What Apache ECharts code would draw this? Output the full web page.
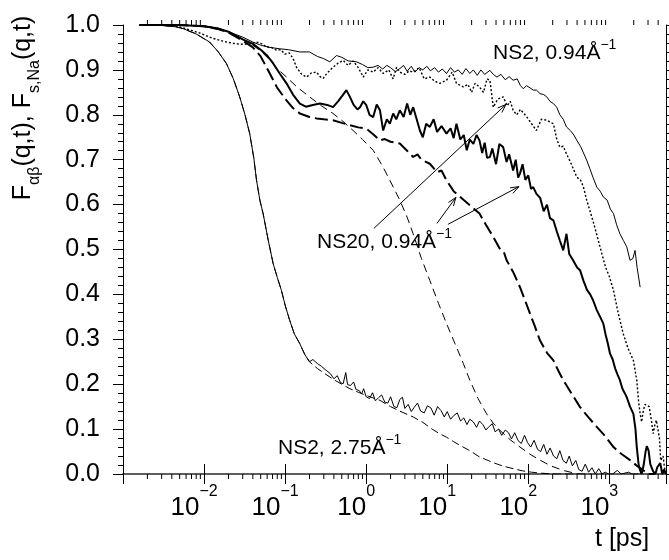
<!DOCTYPE html>
<html>
<head>
<meta charset="utf-8">
<script src="https://cdn.jsdelivr.net/npm/echarts@6/dist/echarts.min.js"></script>
<style>
html,body{margin:0;padding:0;background:#fff;}
#chart{width:669px;height:560px;}
</style>
</head>
<body>
<div id="chart"></div>
<script>
// ---------- DATA (t in ps, F(q,t)) ----------
const yTicks = [0.0,0.1,0.2,0.3,0.4,0.5,0.6,0.7,0.8,0.9,1.0];
const xDecades = [1e-3,1e-2,1e-1,1e0,1e1,1e2,1e3];

// NS2, q = 2.75 1/A : common fast part of both curves
const fastEarly = [[0.0016,1.0],[0.002,1.0],[0.003,0.999],[0.0045,0.996],[0.0055,0.992],[0.008,0.980],[0.0117,0.962],[0.015,0.940],[0.0189,0.914],[0.023,0.880],[0.0275,0.840],[0.032,0.800],[0.0366,0.758],[0.041,0.705],[0.0444,0.654],[0.0488,0.610],[0.0535,0.580],[0.062,0.520],[0.0711,0.469],[0.080,0.438],[0.090,0.409],[0.100,0.376],[0.114,0.342],[0.130,0.312],[0.152,0.290],[0.175,0.266],[0.200,0.250]];
// solid, noisy tail
const fastSolidTail = [[0.22,0.255],[0.25,0.246],[0.28,0.240],[0.32,0.231],[0.36,0.224],[0.40,0.212],[0.44,0.219],[0.48,0.204],[0.52,0.201],[0.56,0.226],[0.59,0.199],[0.64,0.197],[0.70,0.205],[0.75,0.188],[0.82,0.186],[0.88,0.178],[0.93,0.190],[1.0,0.172],[1.1,0.168],[1.2,0.181],[1.3,0.163],[1.42,0.170],[1.55,0.176],[1.7,0.160],[1.85,0.158],[2.0,0.172],[2.2,0.150],[2.4,0.148],[2.6,0.166],[2.8,0.171],[3.0,0.146],[3.3,0.155],[3.6,0.139],[3.9,0.148],[4.3,0.158],[4.7,0.140],[5.2,0.136],[5.7,0.152],[6.3,0.147],[6.9,0.131],[7.6,0.150],[8.4,0.141],[9.2,0.127],[10,0.139],[11,0.122],[12,0.130],[13.3,0.136],[14.6,0.118],[16,0.125],[17.5,0.110],[19,0.122],[21,0.116],[23,0.104],[25,0.118],[27.5,0.110],[30,0.098],[33,0.106],[36,0.112],[39,0.094],[43,0.100],[47,0.086],[52,0.098],[57,0.092],[62,0.078],[68,0.092],[75,0.074],[82,0.068],[90,0.086],[98,0.070],[107,0.060],[118,0.075],[130,0.055],[142,0.050],[155,0.066],[170,0.044],[186,0.058],[205,0.040],[225,0.034],[245,0.052],[268,0.030],[295,0.024],[320,0.040],[350,0.018],[385,0.030],[420,0.010],[460,0.006],[505,0.022],[555,0.004],[610,0.014],[670,0.0],[740,0.012],[810,0.0],[890,0.004],[980,0.0],[1100,0.0],[1250,0.008],[1400,0.0],[1730,0.004],[1900,0.0],[2300,0.0]];
// dashed, smooth tail
const fastDashedTail = [[0.25,0.235],[0.3,0.225],[0.4,0.210],[0.5,0.200],[0.63,0.190],[0.8,0.182],[1.0,0.175],[1.48,0.164],[2.0,0.150],[2.6,0.140],[3.8,0.127],[5.0,0.115],[6.5,0.100],[8.0,0.090],[9.8,0.082],[12,0.072],[15,0.062],[19,0.052],[25,0.038],[32,0.030],[40,0.023],[50,0.017],[65,0.012],[85,0.007],[110,0.004],[140,0.002],[170,0.001],[220,0.0],[400,0.0]];

// q = 0.94 1/A curves
const thinDashed = [[0.0016,1.0],[0.005,1.0],[0.01,0.998],[0.015,0.993],[0.02,0.985],[0.03,0.968],[0.04,0.955],[0.05,0.942],[0.065,0.922],[0.08,0.903],[0.104,0.884],[0.14,0.862],[0.2,0.840],[0.28,0.820],[0.39,0.803],[0.52,0.785],[0.69,0.765],[0.9,0.745],[1.22,0.721],[1.6,0.685],[1.96,0.654],[2.6,0.610],[3.2,0.572],[3.8,0.535],[4.8,0.480],[6.1,0.431],[7.8,0.380],[9.8,0.335],[12.5,0.290],[15.8,0.246],[19,0.209],[24,0.168],[30.6,0.134],[37,0.113],[44.7,0.097],[60,0.076],[79,0.060],[105,0.044],[139,0.031],[190,0.018],[270,0.008],[350,0.003],[435,0.0],[600,0.0]];

const thickDashed = [[0.0016,1.0],[0.005,1.0],[0.01,0.997],[0.015,0.991],[0.02,0.983],[0.03,0.965],[0.04,0.950],[0.05,0.930],[0.0647,0.892],[0.08,0.860],[0.104,0.832],[0.125,0.815],[0.152,0.803],[0.2,0.795],[0.244,0.792],[0.3,0.790],[0.39,0.788],[0.5,0.782],[0.63,0.777],[0.8,0.772],[1.01,0.769],[1.25,0.755],[1.48,0.743],[1.7,0.746],[2.0,0.740],[2.6,0.736],[3.2,0.720],[3.8,0.706],[4.3,0.712],[4.8,0.700],[6.1,0.691],[7.5,0.672],[8.5,0.676],[9.8,0.654],[12,0.630],[16,0.610],[20,0.595],[25,0.580],[30,0.555],[37,0.528],[45,0.500],[50,0.494],[54,0.476],[65,0.450],[79,0.416],[92,0.385],[105,0.357],[120,0.330],[139,0.298],[170,0.270],[204,0.253],[235,0.230],[270,0.209],[340,0.180],[435,0.149],[560,0.125],[700,0.105],[880,0.085],[1125,0.060],[1400,0.045],[1800,0.031],[2200,0.018],[2630,0.008],[3000,0.0],[3600,0.0]];

const thickSolid = [[0.0016,1.0],[0.005,1.0],[0.01,0.997],[0.015,0.992],[0.02,0.985],[0.03,0.968],[0.04,0.958],[0.05,0.945],[0.06,0.932],[0.071,0.915],[0.085,0.893],[0.104,0.870],[0.125,0.845],[0.152,0.825],[0.18,0.818],[0.22,0.822],[0.268,0.825],[0.33,0.822],[0.39,0.817],[0.45,0.830],[0.52,0.845],[0.57,0.855],[0.63,0.840],[0.7,0.822],[0.78,0.812],[0.84,0.817],[0.92,0.830],[1.0,0.822],[1.1,0.800],[1.22,0.795],[1.35,0.823],[1.48,0.810],[1.62,0.765],[1.8,0.790],[1.96,0.780],[2.15,0.803],[2.35,0.790],[2.6,0.810],[2.9,0.795],[3.2,0.825],[3.5,0.800],[3.8,0.817],[4.2,0.790],[4.6,0.765],[5.0,0.750],[5.5,0.780],[6.1,0.773],[6.8,0.790],[7.5,0.762],[8.5,0.775],[9.8,0.758],[11,0.770],[12,0.748],[13,0.780],[14.5,0.745],[16,0.755],[17.4,0.721],[19,0.745],[21,0.735],[23,0.755],[25,0.743],[27,0.715],[29,0.738],[31,0.704],[33.6,0.706],[36,0.725],[40,0.690],[44,0.735],[49,0.728],[54,0.695],[58,0.712],[65,0.676],[70,0.700],[75,0.660],[79,0.669],[85,0.690],[92,0.655],[100,0.665],[108,0.635],[115,0.639],[126,0.624],[140,0.615],[155,0.585],[170,0.600],[185,0.570],[204,0.565],[225,0.540],[245,0.520],[270,0.498],[296,0.535],[320,0.490],[360,0.475],[400,0.460],[435,0.454],[480,0.430],[530,0.410],[580,0.400],[630,0.387],[700,0.365],[770,0.350],[843,0.335],[900,0.310],[960,0.290],[1020,0.268],[1100,0.255],[1180,0.235],[1270,0.220],[1350,0.209],[1450,0.190],[1550,0.180],[1640,0.171],[1800,0.150],[1980,0.134],[2100,0.100],[2180,0.060],[2300,0.020],[2400,0.008],[2500,0.0],[2650,0.020],[2800,0.050],[2900,0.062],[3050,0.052],[3200,0.022],[3470,0.006],[3700,0.0],[3900,0.015],[4250,0.024],[4500,0.0],[4750,0.010],[5000,0.0]];

const dotted = [[0.0016,1.0],[0.003,1.0],[0.005,0.996],[0.0089,0.982],[0.013,0.970],[0.0189,0.962],[0.025,0.958],[0.0304,0.957],[0.037,0.958],[0.0444,0.962],[0.052,0.958],[0.059,0.951],[0.068,0.950],[0.078,0.944],[0.088,0.945],[0.1,0.935],[0.112,0.938],[0.125,0.926],[0.138,0.906],[0.16,0.890],[0.184,0.884],[0.21,0.893],[0.244,0.895],[0.27,0.885],[0.295,0.881],[0.33,0.893],[0.39,0.906],[0.45,0.915],[0.52,0.921],[0.6,0.910],[0.69,0.920],[0.8,0.905],[0.92,0.884],[1.05,0.900],[1.22,0.895],[1.4,0.905],[1.62,0.892],[1.9,0.900],[2.15,0.880],[2.37,0.906],[2.6,0.895],[3.0,0.890],[3.4,0.898],[3.8,0.895],[4.5,0.905],[5.2,0.880],[6.1,0.884],[7.0,0.875],[8.1,0.870],[9.8,0.877],[11.5,0.895],[13,0.870],[15.8,0.862],[18,0.868],[20,0.850],[22,0.870],[25,0.862],[28,0.850],[31,0.880],[33.6,0.877],[37,0.817],[42,0.835],[49,0.840],[55,0.820],[60,0.830],[65,0.810],[72,0.800],[80,0.812],[96,0.795],[110,0.780],[126,0.765],[145,0.790],[169,0.788],[204,0.780],[225,0.745],[245,0.728],[270,0.730],[296,0.713],[340,0.690],[397,0.661],[440,0.655],[480,0.639],[525,0.610],[575,0.587],[660,0.550],[767,0.506],[900,0.460],[1000,0.440],[1125,0.409],[1280,0.360],[1480,0.313],[1700,0.280],[1980,0.253],[2180,0.209],[2300,0.160],[2400,0.134],[2500,0.116],[2620,0.140],[2750,0.155],[2900,0.157],[3100,0.150],[3300,0.120],[3470,0.090],[3650,0.110],[3800,0.120],[4000,0.120],[4150,0.080],[4300,0.030],[4600,0.040],[4900,0.0]];

const thinSolid = [[0.0016,1.0],[0.005,1.0],[0.01,0.997],[0.02,0.985],[0.03,0.973],[0.04,0.962],[0.05,0.955],[0.065,0.950],[0.086,0.947],[0.11,0.945],[0.152,0.940],[0.2,0.940],[0.25,0.930],[0.3,0.925],[0.356,0.918],[0.43,0.932],[0.5,0.928],[0.6,0.920],[0.76,0.918],[0.9,0.912],[1.05,0.905],[1.22,0.906],[1.4,0.910],[1.6,0.902],[1.8,0.910],[2.0,0.905],[2.3,0.896],[2.6,0.903],[2.9,0.910],[3.2,0.897],[3.6,0.908],[4.0,0.895],[4.5,0.905],[5.0,0.900],[5.6,0.908],[6.2,0.898],[7.0,0.905],[7.8,0.895],[8.7,0.902],[9.8,0.892],[11,0.905],[12.3,0.895],[13.7,0.900],[15.3,0.890],[17,0.903],[19,0.892],[21,0.900],[23.5,0.888],[26,0.900],[29,0.890],[33.6,0.899],[37,0.890],[41,0.884],[46,0.890],[52,0.878],[58,0.885],[65,0.877],[73,0.880],[80,0.865],[87,0.858],[95,0.865],[105,0.860],[115,0.855],[126,0.855],[140,0.847],[155,0.845],[169,0.840],[185,0.830],[204,0.825],[224,0.817],[245,0.800],[270,0.790],[296,0.773],[330,0.765],[365,0.755],[397,0.743],[440,0.730],[480,0.715],[525,0.699],[575,0.680],[630,0.660],[700,0.639],[770,0.630],[843,0.617],[940,0.610],[1030,0.590],[1125,0.580],[1230,0.555],[1350,0.535],[1490,0.520],[1640,0.506],[1800,0.476],[1950,0.480],[2075,0.498],[2200,0.460],[2400,0.416]];

// annotation arrows: [tStart, yStart, tEnd, yEnd]
const arrows = [[1.245,0.547,53,0.823],[7.46,0.558,12.8,0.616],[10.2,0.556,76.7,0.640]];

// log minor tick positions (2..9 x 10^k)
const minorTickValues = [];
xDecades.forEach(d => { for (let m = 2; m <= 9; m++) { const v = m * d; if (v < 5000) minorTickValues.push([v]); } });

// ---------- CHART ----------
const FONT = 'Liberation Sans, Arial, Helvetica, sans-serif';
const chart = echarts.init(document.getElementById('chart'), null, {renderer: 'canvas'});

function isDecade(v) { const e = Math.log10(v); return Math.abs(e - Math.round(e)) < 1e-6; }

const xCommon = {
  type: 'log', logBase: 10, min: 0.001, max: 5000,
  splitLine: {show: false},
  minorTick: {show: false},
  axisLine: {show: true, lineStyle: {color: '#555', width: 1.5}},
  axisTick: {show: true, inside: false, length: 10, lineStyle: {color: '#000', width: 1}}
};
const yCommon = {
  type: 'value', min: 0, max: 1, interval: 0.1,
  splitLine: {show: false},
  axisLine: {show: true, onZero: false, lineStyle: {color: '#000', width: 1}},
  axisTick: {show: true, inside: false, length: 10, lineStyle: {color: '#000', width: 1}},
  minorTick: {show: true, splitNumber: 5, length: 5, lineStyle: {color: '#000', width: 1}}
};

const lineBase = {type: 'line', showSymbol: false, symbol: 'none', smooth: false, silent: true, z: 3};

const option = {
  animation: false,
  grid: {left: 123, top: 25, width: 543, height: 449, containLabel: false},
  xAxis: [
    Object.assign({}, xCommon, {
      position: 'bottom',
      axisLabel: {
        show: true, margin: 10, padding: [0, 20, 0, 0],
        formatter: function (v) {
          if (!isDecade(v)) return '';
          const e = Math.round(Math.log10(v));
          if (e < -2) return '';
          return '{m|10}{s|' + (e < 0 ? '\u2212' + (-e) : String(e)) + '}';
        },
        rich: {
          m: {fontFamily: FONT, fontSize: 26, color: '#000', lineHeight: 48},
          s: {fontFamily: FONT, fontSize: 16, color: '#000', lineHeight: 16, verticalAlign: 'top'}
        }
      }
    }),
    Object.assign({}, xCommon, {position: 'top', axisLabel: {show: false}})
  ],
  yAxis: [
    Object.assign({}, yCommon, {
      position: 'left',
      axisLabel: {show: true, margin: 23, fontFamily: FONT, fontSize: 25, color: '#000',
        formatter: v => v.toFixed(1)}
    }),
    Object.assign({}, yCommon, {position: 'right', axisLabel: {show: false}})
  ],
  graphic: [
    {type: 'text', x: 23, y: 108, rotation: Math.PI / 2, silent: true,
      style: {
        text: '{m|F}{sb|\u03b1\u03b2}{m|(q,t), F}{sb|s,Na}{m|(q,t)}',
        textAlign: 'center', textVerticalAlign: 'middle',
        rich: {
          m: {fontFamily: FONT, fontSize: 25, fill: '#000', lineHeight: 40},
          sb: {fontFamily: FONT, fontSize: 16, fill: '#000', lineHeight: 16, verticalAlign: 'bottom'}
        }
      }},
    {type: 'text', x: 595, y: 539, silent: true,
      style: {text: 't [ps]', fontFamily: FONT, fontSize: 25, fill: '#000', textAlign: 'left', textVerticalAlign: 'middle'}},
    {type: 'text', x: 493, y: 38, silent: true,
      style: {text: '{m|NS2, 0.94\u00c5}{s|\u22121}', textAlign: 'left', textVerticalAlign: 'top',
        rich: {m: {fontFamily: FONT, fontSize: 21, fill: '#000', lineHeight: 31},
               s: {fontFamily: FONT, fontSize: 14, fill: '#000', lineHeight: 14, verticalAlign: 'top'}}}},
    {type: 'text', x: 317, y: 227, silent: true,
      style: {text: '{m|NS20, 0.94\u00c5}{s|\u22121}', textAlign: 'left', textVerticalAlign: 'top',
        rich: {m: {fontFamily: FONT, fontSize: 21, fill: '#000', lineHeight: 31},
               s: {fontFamily: FONT, fontSize: 14, fill: '#000', lineHeight: 14, verticalAlign: 'top'}}}},
    {type: 'text', x: 278, y: 433, silent: true,
      style: {text: '{m|NS2, 2.75\u00c5}{s|\u22121}', textAlign: 'left', textVerticalAlign: 'top',
        rich: {m: {fontFamily: FONT, fontSize: 21, fill: '#000', lineHeight: 31},
               s: {fontFamily: FONT, fontSize: 14, fill: '#000', lineHeight: 14, verticalAlign: 'top'}}}}
  ],
  series: [
    Object.assign({}, lineBase, {name: 'NS2 2.75 solid', data: fastEarly.concat(fastSolidTail),
      lineStyle: {color: '#000', width: 1}}),
    Object.assign({}, lineBase, {name: 'NS2 2.75 dashed', data: fastEarly.concat(fastDashedTail),
      lineStyle: {color: '#000', width: 1, type: [8, 4]}}),
    Object.assign({}, lineBase, {name: 'thin dashed 0.94', data: thinDashed,
      lineStyle: {color: '#000', width: 1, type: [8, 5]}}),
    Object.assign({}, lineBase, {name: 'thick dashed 0.94', data: thickDashed,
      lineStyle: {color: '#000', width: 2, type: [13, 5]}}),
    Object.assign({}, lineBase, {name: 'thick solid 0.94', data: thickSolid,
      lineStyle: {color: '#000', width: 2}}),
    Object.assign({}, lineBase, {name: 'dotted 0.94', data: dotted,
      lineStyle: {color: '#000', width: 1.4, type: [2, 2]}}),
    Object.assign({}, lineBase, {name: 'thin solid 0.94', data: thinSolid,
      lineStyle: {color: '#000', width: 1}}),
    {
      type: 'custom', name: 'minor ticks', silent: true, clip: false, z: 4,
      data: minorTickValues,
      encode: {x: 0},
      renderItem: function (params, api) {
        const v = api.value(0);
        const pb = api.coord([v, 0]);
        const pt = api.coord([v, 1]);
        return {type: 'group', children: [
          {type: 'line', shape: {x1: pb[0], y1: pb[1], x2: pb[0], y2: pb[1] + 5}, style: {stroke: '#000', lineWidth: 1}},
          {type: 'line', shape: {x1: pt[0], y1: pt[1], x2: pt[0], y2: pt[1] - 5}, style: {stroke: '#000', lineWidth: 1}}
        ]};
      }
    },
    {
      type: 'custom', name: 'arrows', silent: true, clip: false, z: 5,
      data: arrows,
      encode: {x: [0, 2], y: [1, 3]},
      renderItem: function (params, api) {
        const p1 = api.coord([api.value(0), api.value(1)]);
        const p2 = api.coord([api.value(2), api.value(3)]);
        const ang = Math.atan2(p2[1] - p1[1], p2[0] - p1[0]);
        const L = 9, a = 0.35;
        const h1 = [p2[0] - L * Math.cos(ang - a), p2[1] - L * Math.sin(ang - a)];
        const h2 = [p2[0] - L * Math.cos(ang + a), p2[1] - L * Math.sin(ang + a)];
        return {type: 'group', children: [
          {type: 'line', shape: {x1: p1[0], y1: p1[1], x2: p2[0], y2: p2[1]}, style: {stroke: '#000', lineWidth: 1}},
          {type: 'polyline', shape: {points: [h1, p2, h2]}, style: {stroke: '#000', fill: null, lineWidth: 1}}
        ]};
      }
    }
  ]
};
chart.setOption(option);
</script>
</body>
</html>
